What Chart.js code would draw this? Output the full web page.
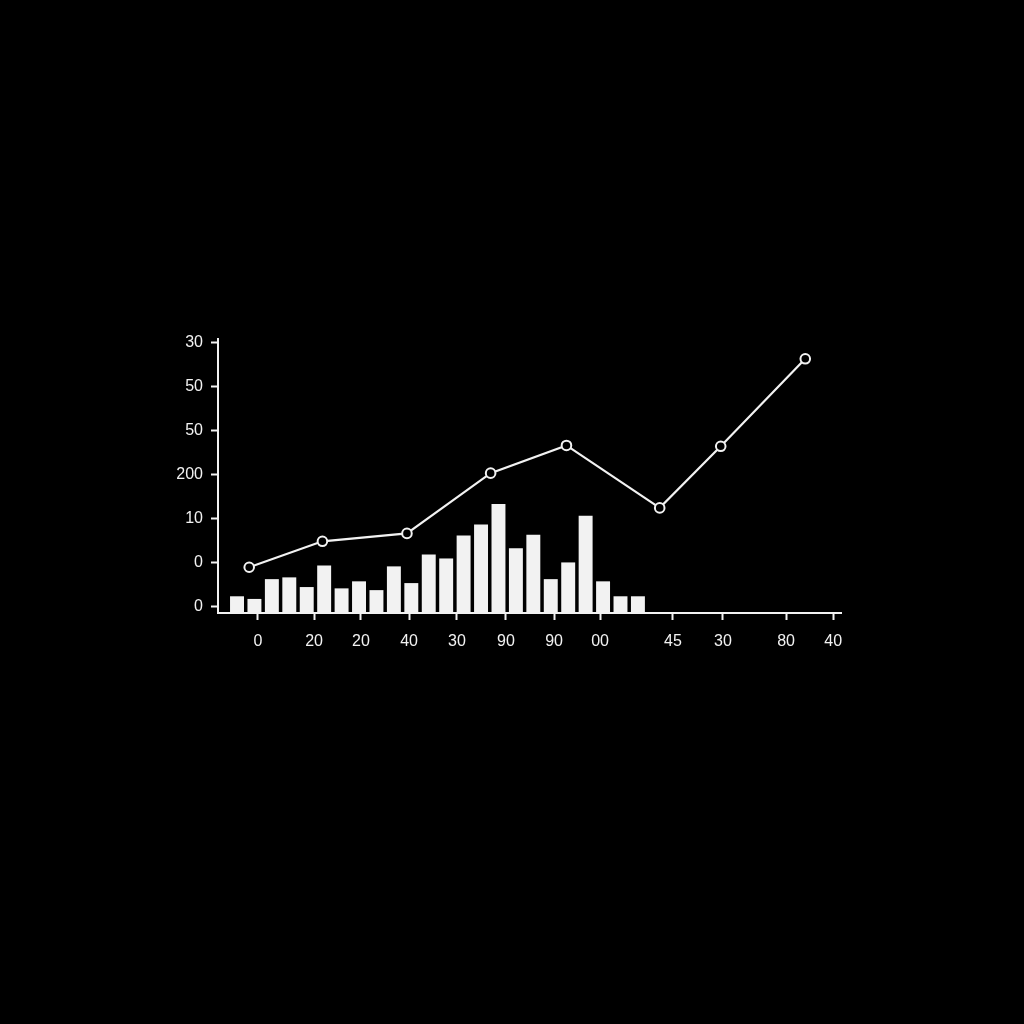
<!DOCTYPE html>
<html>
<head>
<meta charset="utf-8">
<script src="https://cdn.jsdelivr.net/npm/chart.js@4"></script>
<style>
  html, body { margin: 0; padding: 0; background: #000; }
  #wrap { width: 1024px; height: 1024px; position: relative; }
  canvas { display: block; }
</style>
</head>
<body>
<div id="wrap"><canvas id="c" width="1024" height="1024"></canvas></div>
<script>
// ---- data ----
const barValues = [3.8, 3.2, 7.7, 8.1, 5.9, 10.8, 5.6, 7.2, 5.2, 10.6, 6.8, 13.3,
                   12.4, 17.6, 20.1, 24.8, 14.7, 17.8, 7.7, 11.5, 22.1, 7.2, 3.8, 3.8];
const lineX = [0.7, 4.9, 9.75, 14.55, 18.9, 24.25, 27.75, 32.6];
const lineValues = [10.4, 16.3, 18.1, 31.8, 38.1, 23.9, 37.9, 57.8];
const xTickPositions = [1.2, 4.42, 7.11, 9.87, 12.62, 15.43, 18.19, 20.83, 25.01, 27.88, 31.5, 34.2];
const xTickLabels = ["0", "20", "20", "40", "30", "90", "90", "00", "45", "30", "80", "40"];
const yTickPositions = [1.4, 11.4, 21.4, 31.4, 41.4, 51.4, 61.4];
const yTickLabels = ["0", "0", "10", "200", "50", "50", "30"];

const FG = '#f2f2f2';
const barData = barValues.map((v, i) => ({ x: i, y: v }));
const lineData = lineX.map((x, i) => ({ x: x, y: lineValues[i] }));

new Chart(document.getElementById('c'), {
  type: 'bar',
  data: {
    datasets: [
      {
        type: 'line',
        data: lineData,
        borderColor: FG,
        borderWidth: 2.2,
        pointRadius: 4.8,
        pointBorderWidth: 2,
        pointBackgroundColor: '#000',
        pointBorderColor: FG,
        tension: 0,
        order: 0
      },
      {
        type: 'bar',
        data: barData,
        backgroundColor: FG,
        borderWidth: 0,
        barPercentage: 0.8,
        categoryPercentage: 1.0,
        order: 1
      }
    ]
  },
  options: {
    responsive: false,
    animation: false,
    devicePixelRatio: 1,
    layout: { padding: { left: 0, top: 339, right: 183, bottom: 0 } },
    plugins: { legend: { display: false }, tooltip: { enabled: false } },
    scales: {
      x: {
        type: 'linear',
        min: -1.09,
        max: 34.65,
        offset: false,
        grid: { display: true, offset: false, drawOnChartArea: false, drawTicks: true, tickLength: 7, tickWidth: 2, tickColor: FG },
        border: { display: true, color: FG, width: 2 },
        afterBuildTicks: (s) => { s.ticks = xTickPositions.map(v => ({ value: v })); },
        afterFit: (s) => { s.height = 411; },
        ticks: {
          autoSkip: false, maxRotation: 0, padding: 12,
          color: FG,
          font: { family: 'Liberation Sans, Arial, sans-serif', size: 16 },
          callback: (v, i) => xTickLabels[i]
        }
      },
      y: {
        type: 'linear',
        min: 0,
        max: 62.3,
        grid: { display: true, offset: false, drawOnChartArea: false, drawTicks: true, tickLength: 7, tickWidth: 2, tickColor: FG },
        border: { display: true, color: FG, width: 2 },
        afterBuildTicks: (s) => { s.ticks = yTickPositions.map(v => ({ value: v })); },
        afterFit: (s) => { s.width = 218; },
        ticks: {
          autoSkip: false, padding: 8,
          color: FG,
          font: { family: 'Liberation Sans, Arial, sans-serif', size: 16 },
          callback: (v, i) => yTickLabels[i]
        }
      }
    }
  }
});
</script>
</body>
</html>
